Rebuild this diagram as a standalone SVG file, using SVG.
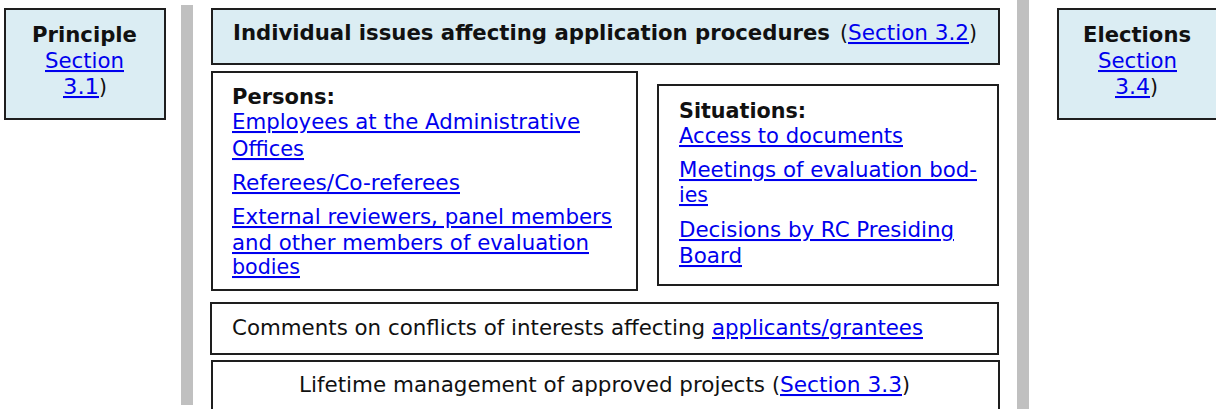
<svg xmlns="http://www.w3.org/2000/svg" width="1216" height="409" viewBox="0 0 1216 409">
<style>
text{font-family:"DejaVu Sans",Verdana,sans-serif;font-size:20.5px;fill:#111}
.b{font-weight:bold}
.a{fill:#0000ee;text-decoration:underline}
.hd{fill:#dbedf3;stroke:#1e1e1e;stroke-width:2}
.bx{fill:#fff;stroke:#1e1e1e;stroke-width:2}
.bar{fill:#c0c0c0}
</style>
<g id="dividers">
<rect class="bar" x="181" y="5" width="12" height="400"/>
<rect class="bar" x="1017" y="0" width="12" height="409"/>
</g>
<g id="principle">
<rect class="hd" x="5" y="9" width="160" height="110"/>
<text class="b" x="32" y="42" textLength="105" lengthAdjust="spacingAndGlyphs">Principle</text>
<text class="a" x="45" y="68" textLength="79" lengthAdjust="spacingAndGlyphs">Section</text>
<text class="a" x="63" y="94" textLength="36" lengthAdjust="spacingAndGlyphs">3.1</text>
<text x="99" y="94">)</text>
</g>
<g id="individual-issues">
<rect class="hd" x="212" y="9" width="787" height="55"/>
<text class="b" x="233" y="40" textLength="597" lengthAdjust="spacingAndGlyphs">Individual issues affecting application procedures</text>
<text x="840" y="40">(</text>
<text class="a" x="848" y="40" textLength="121" lengthAdjust="spacingAndGlyphs">Section 3.2</text>
<text x="969" y="40">)</text>
</g>
<g id="persons">
<rect class="bx" x="212" y="72" width="425" height="218"/>
<text class="b" x="232" y="104" textLength="103" lengthAdjust="spacingAndGlyphs">Persons:</text>
<text class="a" x="232" y="129" textLength="348" lengthAdjust="spacingAndGlyphs">Employees at the Administrative</text>
<text class="a" x="232" y="156" textLength="72" lengthAdjust="spacingAndGlyphs">Offices</text>
<text class="a" x="232" y="190" textLength="228" lengthAdjust="spacingAndGlyphs">Referees/Co-referees</text>
<text class="a" x="232" y="224" textLength="380" lengthAdjust="spacingAndGlyphs">External reviewers, panel members</text>
<text class="a" x="232" y="250" textLength="357" lengthAdjust="spacingAndGlyphs">and other members of evaluation</text>
<text class="a" x="232" y="274" textLength="68" lengthAdjust="spacingAndGlyphs">bodies</text>
</g>
<g id="situations">
<rect class="bx" x="658" y="85" width="340" height="200"/>
<text class="b" x="679" y="118" textLength="127" lengthAdjust="spacingAndGlyphs">Situations:</text>
<text class="a" x="679" y="143" textLength="224" lengthAdjust="spacingAndGlyphs">Access to documents</text>
<text class="a" x="679" y="177" textLength="298" lengthAdjust="spacingAndGlyphs">Meetings of evaluation bod-</text>
<text class="a" x="679" y="202" textLength="29" lengthAdjust="spacingAndGlyphs">ies</text>
<text class="a" x="679" y="237" textLength="275" lengthAdjust="spacingAndGlyphs">Decisions by RC Presiding</text>
<text class="a" x="679" y="263" textLength="63" lengthAdjust="spacingAndGlyphs">Board</text>
</g>
<g id="comments">
<rect class="bx" x="211" y="303" width="787" height="51"/>
<text x="232" y="335" textLength="473" lengthAdjust="spacingAndGlyphs">Comments on conflicts of interests affecting</text>
<text class="a" x="712" y="335" textLength="211" lengthAdjust="spacingAndGlyphs">applicants/grantees</text>
</g>
<g id="lifetime">
<rect class="bx" x="212" y="361" width="787" height="60"/>
<text x="299" y="392" textLength="466" lengthAdjust="spacingAndGlyphs">Lifetime management of approved projects</text>
<text x="772" y="392">(</text>
<text class="a" x="780" y="392" textLength="122" lengthAdjust="spacingAndGlyphs">Section 3.3</text>
<text x="902" y="392">)</text>
</g>
<g id="elections">
<rect class="hd" x="1058" y="9" width="160" height="110"/>
<text class="b" x="1083" y="42" textLength="108" lengthAdjust="spacingAndGlyphs">Elections</text>
<text class="a" x="1098" y="68" textLength="79" lengthAdjust="spacingAndGlyphs">Section</text>
<text class="a" x="1115" y="94" textLength="35" lengthAdjust="spacingAndGlyphs">3.4</text>
<text x="1150" y="94">)</text>
</g>
<g id="connectors"/>
</svg>
